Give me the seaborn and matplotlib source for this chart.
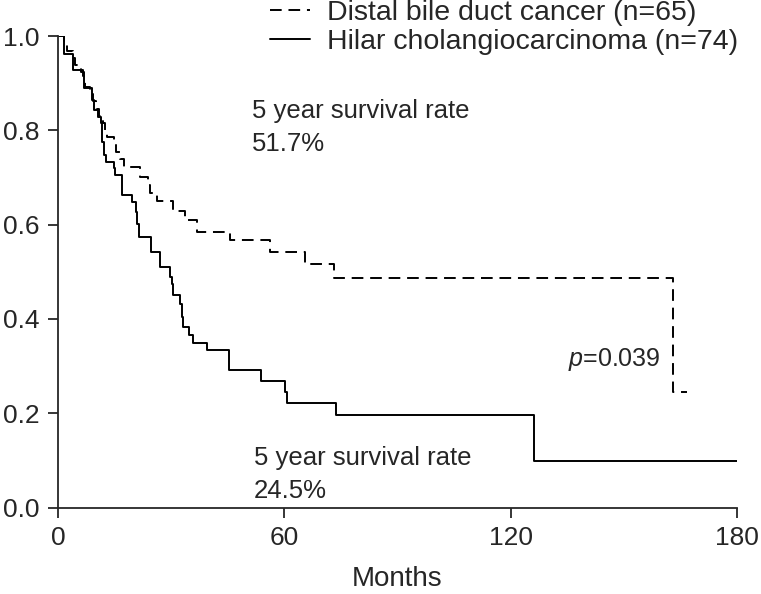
import matplotlib
matplotlib.use("Agg")
import matplotlib.pyplot as plt
import seaborn as sns
import pandas as pd

# Kaplan-Meier step data (months, survival after the drop)
distal_months = [0, 1.6, 2.5, 3.9, 4.5, 6.0, 6.8, 7.2, 8.5, 9.3, 10.0, 11.0, 12.0, 12.5,
                 13.0, 14.8, 15.3, 16.4, 17.4, 21.7, 23.9, 24.5, 26.3, 30.4, 33.7, 36.8,
                 45.6, 56.1, 65.4, 73.2, 163.1, 166.7]
distal_surv = [1.0, 0.985, 0.969, 0.954, 0.938, 0.923, 0.908, 0.892, 0.877, 0.862, 0.846,
               0.831, 0.815, 0.800, 0.786, 0.770, 0.754, 0.740, 0.723, 0.701, 0.684, 0.667,
               0.650, 0.628, 0.609, 0.585, 0.567, 0.542, 0.516, 0.487, 0.244, 0.244]

hilar_months = [0, 1.6, 3.9, 6.6, 7.0, 9.1, 9.5, 10.7, 11.3, 11.7, 12.2, 12.7, 14.8, 15.1,
                16.9, 19.5, 20.7, 20.9, 21.6, 24.6, 27.0, 29.7, 30.1, 30.6, 32.3, 32.8,
                33.2, 34.8, 35.9, 39.6, 45.2, 45.4, 53.7, 60.2, 60.6, 73.8, 126.1, 180]
hilar_surv = [1.0, 0.961, 0.928, 0.915, 0.889, 0.864, 0.843, 0.829, 0.815, 0.776, 0.748,
              0.733, 0.719, 0.705, 0.662, 0.648, 0.627, 0.602, 0.574, 0.542, 0.510, 0.489,
              0.475, 0.450, 0.432, 0.404, 0.383, 0.365, 0.348, 0.333, 0.312, 0.291, 0.268,
              0.245, 0.222, 0.196, 0.098, 0.098]

group_labels = ["Distal bile duct cancer (n=65)", "Hilar cholangiocarcinoma (n=74)"]
x_ticks = [0, 60, 120, 180]
y_ticks = [0.0, 0.2, 0.4, 0.6, 0.8, 1.0]
rate_distal = "5 year survival rate\n51.7%"
rate_hilar = "5 year survival rate\n24.5%"
p_text = "$p$=0.039"

sns.set_style("ticks")
plt.rcParams["font.family"] = ["Liberation Sans", "DejaVu Sans"]
plt.rcParams["mathtext.fontset"] = "custom"
plt.rcParams["mathtext.it"] = "Liberation Sans:italic"
plt.rcParams["mathtext.rm"] = "Liberation Sans"

fig = plt.figure(figsize=(7.61, 5.94), dpi=100)
ax = fig.add_axes([58 / 761, 1 - 507.5 / 594, 679 / 761, 471.5 / 594])

df_d = pd.DataFrame({"t": distal_months, "s": distal_surv})
df_h = pd.DataFrame({"t": hilar_months, "s": hilar_surv})

dash = (0, (6, 3.5))
sns.lineplot(data=df_d, x="t", y="s", ax=ax, estimator=None, drawstyle="steps-post",
             color="black", lw=1.4, linestyle=dash, label=group_labels[0])
sns.lineplot(data=df_h, x="t", y="s", ax=ax, estimator=None, drawstyle="steps-post",
             color="black", lw=1.4, label=group_labels[1])

ax.set_xlim(0, 180)
ax.set_ylim(0, 1.0)
ax.set_xticks(x_ticks)
ax.set_yticks(y_ticks)
ax.set_yticklabels([f"{v:.1f}" for v in y_ticks])
ax.tick_params(labelsize=19, length=7, width=1.3, direction="out", pad=6)
ax.set_xlabel("Months", fontsize=20, labelpad=12)
ax.set_ylabel("")
for side in ["top", "right"]:
    ax.spines[side].set_visible(False)
for side in ["left", "bottom"]:
    ax.spines[side].set_linewidth(1.3)

ax.text(51.4, 0.806, rate_distal, fontsize=18.5, ha="left", va="center", linespacing=1.5)
ax.text(52.0, 0.070, rate_hilar, fontsize=18.5, ha="left", va="center", linespacing=1.5)
ax.text(135.3, 0.313, p_text, fontsize=18, ha="left", va="center")

leg = ax.legend(loc="upper left", bbox_to_anchor=(270 / 761, 1.0),
                bbox_transform=fig.transFigure, frameon=False, fontsize=20.5,
                handlelength=1.4, handletextpad=0.6, labelspacing=0.1,
                borderpad=0, borderaxespad=0)

fig.savefig("out.png", dpi=100)
